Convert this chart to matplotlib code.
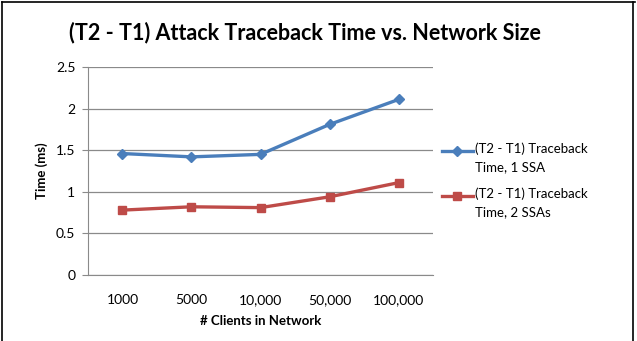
import numpy as np
import matplotlib.pyplot as plt
from matplotlib.lines import Line2D

plt.rcParams['font.family'] = ['Lato', 'DejaVu Sans']

# data
clients = ["1000", "5000", "10,000", "50,000", "100,000"]
time_1ssa = [1.46, 1.42, 1.45, 1.81, 2.11]
time_2ssa = [0.78, 0.82, 0.81, 0.94, 1.11]
series_labels = ["(T2 - T1) Traceback\nTime, 1 SSA", "(T2 - T1) Traceback\nTime, 2 SSAs"]
yticks = [0, 0.5, 1, 1.5, 2, 2.5]
ytick_labels = ["0", "0.5", "1", "1.5", "2", "2.5"]

blue = "#4A7EBB"
red = "#BE4B48"

fig = plt.figure(figsize=(6.37, 3.41), dpi=100)
ax = fig.add_axes([0.138, 0.1935, 0.542, 0.61])

x = np.arange(len(clients))
ax.plot(x, time_1ssa, color=blue, lw=2.4, marker="D", ms=5.5)
ax.plot(x, time_2ssa, color=red, lw=2.4, marker="s", ms=5.5)

ax.set_xlim(-0.5, len(clients) - 0.5)
ax.set_ylim(0, 2.5)
ax.set_yticks(yticks)
ax.set_yticklabels(ytick_labels)
ax.set_xticks(x)
ax.set_xticklabels(clients)
ax.grid(axis="y", color="#8a8a8a", lw=0.9)
ax.set_axisbelow(True)
for s in ["top", "right"]:
    ax.spines[s].set_visible(False)
ax.spines["left"].set_color("#8a8a8a")
ax.spines["bottom"].set_color("#8a8a8a")
ax.tick_params(axis="y", length=4, color="#8a8a8a", labelsize=10, pad=5)
ax.tick_params(axis="x", length=0, labelsize=10, pad=14)

ax.set_xlabel("# Clients in Network", fontsize=9.5, fontweight="bold", labelpad=6)
ax.set_ylabel("Time (ms)", fontsize=9.5, fontweight="bold", labelpad=6)

fig.text(0.479, 0.905, "(T2 - T1) Attack Traceback Time vs. Network Size",
         ha="center", va="center", fontsize=15.5, fontweight="bold")

# legend drawn by hand so the wrapped labels get Excel-like line spacing
legend_y = [0.557, 0.425]
for lab, col, mk, ly in zip(series_labels, [blue, red], ["D", "s"], legend_y):
    fig.add_artist(Line2D([0.694, 0.7425], [ly, ly], color=col, lw=2.4))
    fig.add_artist(Line2D([0.718], [ly], color=col, marker=mk, ms=5.5))
    fig.text(0.746, ly + 0.024, lab, ha="left", va="top", fontsize=9.5,
             linespacing=1.55)

# thin frame around the image
fig.add_artist(Line2D([0.003, 0.003], [0, 0.995], color="black", lw=1.2))
fig.add_artist(Line2D([0.003, 0.997], [0.995, 0.995], color="black", lw=1.2))
fig.add_artist(Line2D([0.993, 0.993], [0, 0.995], color="black", lw=1.2))

fig.savefig("out.png", dpi=100)
